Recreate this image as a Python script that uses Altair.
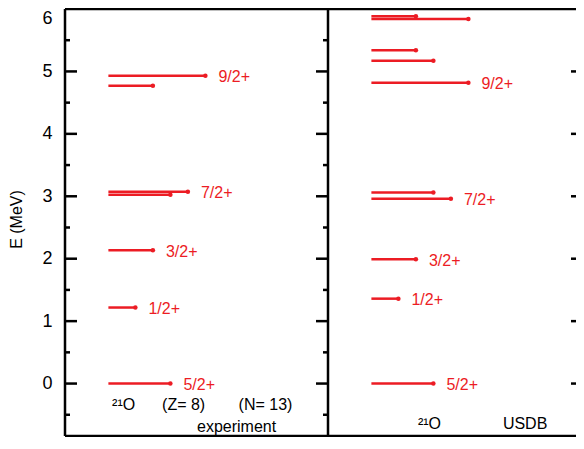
import altair as alt
import pandas as pd

# ---------------- data ----------------
exp_E = [0.0, 1.218, 2.134, 3.026, 3.073, 4.77, 4.93]
exp_J = ["5/2+", "1/2+", "3/2+", "5/2+", "7/2+", "3/2+", "9/2+"]
exp_show = [True, True, True, False, True, False, True]

usdb_E = [0.0, 1.36, 1.99, 2.96, 3.06, 4.82, 5.17, 5.34, 5.84, 5.885]
usdb_J = ["5/2+", "1/2+", "3/2+", "7/2+", "5/2+", "9/2+", "5/2+", "3/2+", "9/2+", "3/2+"]
usdb_show = [True, True, True, True, False, True, False, False, False, False]

major_ticks = [0, 1, 2, 3, 4, 5]
minor_ticks = [-0.5, 0.5, 1.5, 2.5, 3.5, 4.5, 5.5]
y_labels = [0, 1, 2, 3, 4, 5, 6]

notes_text = ["²¹O", "(Z= 8)", "(N= 13)", "experiment", "²¹O", "USDB"]
notes_x = [0.179, 0.369, 0.66, 0.502, 1.342, 1.665]
notes_y = [-0.345, -0.345, -0.345, -0.70, -0.64, -0.64]

# ---------------- layout helpers ----------------
RED = "#ec1c24"
FONT = "Liberation Sans"
W, H = 511, 427
YMIN = -0.84
PANEL_PX = 263.0
XMAX = W / PANEL_PX
START = 0.165


def level_len(j):
    num = int(j.split("/")[0])  # 2J
    return (8.75 * (num + 1) + 9.5) / PANEL_PX


rows = []
for panel, E, J, S in [(0, exp_E, exp_J, exp_show), (1, usdb_E, usdb_J, usdb_show)]:
    for e, j, s in zip(E, J, S):
        x0 = panel + START
        rows.append(dict(E=e, x0=x0, x1=x0 + level_len(j), label=j if s else ""))
levels = pd.DataFrame(rows)

frame = pd.DataFrame(
    dict(
        x=[0, 1, 0, 0],
        x2=[0, 1, XMAX, XMAX],
        y=[YMIN, YMIN, 6, YMIN],
        y2=[6, 6, 6, YMIN],
    )
)

notes = pd.DataFrame(dict(text=notes_text, x=notes_x, y=notes_y))

xscale = alt.Scale(domain=[0, XMAX], nice=False, zero=False)
yscale = alt.Scale(domain=[YMIN, 6], nice=False, zero=False)
yaxis = alt.Axis(
    values=y_labels,
    title="E (MeV)",
    titleFont=FONT,
    titleFontSize=16,
    titleFontWeight="normal",
    titleColor="black",
    titleAngle=270,
    titleX=-49,
    titleY=210,
    titleAlign="center",
    titleBaseline="middle",
    labelFont=FONT,
    labelFontSize=18,
    labelColor="black",
    labelPadding=13,
    labelFlush=True,
    labelFlushOffset=0,
    ticks=False,
    domain=False,
    grid=False,
)


def X(f):
    return alt.X(f, scale=xscale, axis=None)


def Y(f):
    return alt.Y(f, scale=yscale, axis=yaxis)


lines = alt.Chart(levels).mark_rule(color=RED, strokeWidth=2.5).encode(
    x=X("x0:Q"), x2="x1:Q", y=Y("E:Q")
)
dots = alt.Chart(levels).mark_point(color=RED, filled=True, size=20, opacity=1).encode(
    x=X("x1:Q"), y=Y("E:Q")
)
labels = alt.Chart(levels).mark_text(
    color=RED, font=FONT, fontSize=16, align="left", baseline="middle", dx=13, dy=1.5
).encode(x=X("x1:Q"), y=Y("E:Q"), text="label:N")

frame_l = alt.Chart(frame).mark_rule(color="black", strokeWidth=2.5).encode(
    x=X("x:Q"), x2="x2:Q", y=Y("y:Q"), y2="y2:Q"
)


def tick_layer(vals, pos, off):
    df = pd.DataFrame(dict(t=vals, p=[pos] * len(vals)))
    return alt.Chart(df).mark_rule(color="black", strokeWidth=2.5, x2Offset=off).encode(
        x=X("p:Q"), x2="p:Q", y=Y("t:Q")
    )


ticks = [
    tick_layer(major_ticks, 0, 12),
    tick_layer(minor_ticks, 0, 5),
    tick_layer(major_ticks, 1, -12),
    tick_layer(minor_ticks, 1, -5),
    tick_layer(major_ticks, XMAX, -5),
]

note_l = alt.Chart(notes).mark_text(
    color="black", font=FONT, fontSize=16, align="left", baseline="middle"
).encode(x=X("x:Q"), y=Y("y:Q"), text="text:N")

chart = (
    alt.layer(lines, dots, labels, frame_l, *ticks, note_l)
    .properties(
        width=W,
        height=H,
        autosize=alt.AutoSizeParams(type="none"),
        padding={"left": 57, "top": 1, "right": 0, "bottom": 1},
    )
    .configure_view(stroke=None)
)

chart.save("out.html", embed_options={"renderer": "svg", "actions": False})
